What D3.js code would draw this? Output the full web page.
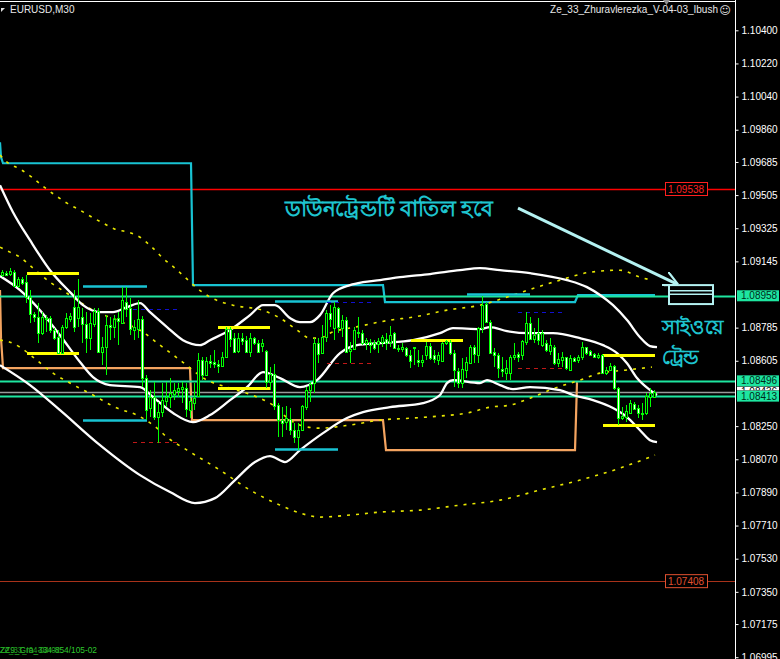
<!DOCTYPE html>
<html><head><meta charset="utf-8">
<script src="https://cdn.jsdelivr.net/npm/d3@7"></script>
<style>html,body{margin:0;padding:0;background:#000;overflow:hidden}</style>
</head><body>
<svg id="c" width="780" height="659"></svg>
<script>
// ---- DATA ----
const symbol = "EURUSD,M30";
const indicatorName = "Ze_33_Zhuravlerezka_V-04-03_Ibush";
const tickValues = [1.10400,1.10220,1.10040,1.09860,1.09685,1.09505,1.09325,1.09145,1.08785,1.08605,1.08250,1.08070,1.07890,1.07710,1.07530,1.07350,1.07175,1.06995];

const opens = [1.09070,1.09081,1.09076,1.09086,1.09010,1.09048,1.09032,1.08951,1.08858,1.08842,1.08755,1.08837,1.08837,1.08772,1.08733,1.08647,1.08788,1.08831,1.08896,1.08837,
1.08842,1.08804,1.08728,1.08804,1.08875,1.08652,1.08679,1.08799,1.08788,1.08837,1.08810,1.08924,1.08891,1.08772,1.08777,1.08831,1.08511,1.08348,1.08408,1.08299,
1.08326,1.08386,1.08408,1.08424,1.08440,1.08451,1.08457,1.08337,1.08375,1.08413,1.08609,1.08527,1.08603,1.08598,1.08587,1.08576,1.08625,1.08777,1.08728,1.08657,
1.08728,1.08717,1.08652,1.08728,1.08701,1.08685,1.08657,1.08489,1.08533,1.08364,1.08283,1.08272,1.08288,1.08228,1.08190,1.08228,1.08353,1.08446,1.08484,1.08701,
1.08647,1.08733,1.08864,1.08782,1.08891,1.08782,1.08826,1.08657,1.08668,1.08761,1.08755,1.08701,1.08706,1.08701,1.08695,1.08706,1.08723,1.08706,1.08755,1.08674,
1.08668,1.08674,1.08636,1.08674,1.08609,1.08598,1.08636,1.08685,1.08636,1.08609,1.08603,1.08701,1.08706,1.08647,1.08549,1.08484,1.08554,1.08592,1.08679,1.08636,
1.08782,1.08913,1.08815,1.08652,1.08636,1.08560,1.08538,1.08538,1.08625,1.08641,1.08636,1.08706,1.08810,1.08723,1.08755,1.08690,1.08701,1.08657,1.08679,1.08592,
1.08609,1.08625,1.08554,1.08619,1.08609,1.08625,1.08679,1.08657,1.08641,1.08625,1.08636,1.08538,1.08554,1.08576,1.08457,1.08294,1.08299,1.08321,1.08370,1.08348,
1.08321,1.08321,1.08408,1.08408];
const highs = [1.09097,1.09092,1.09108,1.09097,1.09059,1.09059,1.09070,1.08989,1.08869,1.08918,1.08869,1.08853,1.08848,1.08782,1.08772,1.08799,1.08864,1.08864,1.08989,1.09048,
1.08891,1.08869,1.08864,1.08891,1.08891,1.08733,1.08853,1.08842,1.08853,1.08869,1.09005,1.09005,1.08945,1.08826,1.08934,1.08848,1.08527,1.08446,1.08489,1.08381,
1.08484,1.08489,1.08511,1.08484,1.08484,1.08489,1.08484,1.08402,1.08484,1.08647,1.08625,1.08625,1.08636,1.08663,1.08609,1.08652,1.08788,1.08788,1.08755,1.08755,
1.08755,1.08739,1.08755,1.08733,1.08717,1.08723,1.08663,1.08571,1.08587,1.08375,1.08353,1.08359,1.08348,1.08267,1.08267,1.08364,1.08462,1.08489,1.08728,1.08728,
1.08799,1.08880,1.08907,1.08924,1.08896,1.08853,1.08842,1.08706,1.08788,1.08842,1.08772,1.08728,1.08723,1.08717,1.08728,1.08744,1.08755,1.08793,1.08761,1.08690,
1.08701,1.08679,1.08663,1.08679,1.08663,1.08636,1.08706,1.08701,1.08663,1.08652,1.08706,1.08717,1.08717,1.08663,1.08565,1.08619,1.08625,1.08690,1.08690,1.08788,
1.08956,1.08924,1.08826,1.08674,1.08647,1.08625,1.08609,1.08636,1.08701,1.08652,1.08717,1.08869,1.08842,1.08782,1.08837,1.08772,1.08717,1.08728,1.08690,1.08647,
1.08652,1.08625,1.08636,1.08625,1.08636,1.08706,1.08679,1.08663,1.08647,1.08647,1.08641,1.08571,1.08592,1.08581,1.08462,1.08353,1.08364,1.08391,1.08381,1.08364,
1.08375,1.08429,1.08457,1.08446];
const lows = [1.09059,1.09065,1.09065,1.09005,1.09000,1.09016,1.08918,1.08810,1.08815,1.08701,1.08744,1.08761,1.08755,1.08717,1.08647,1.08641,1.08777,1.08815,1.08761,1.08788,
1.08701,1.08647,1.08663,1.08788,1.08652,1.08581,1.08527,1.08717,1.08728,1.08690,1.08804,1.08842,1.08744,1.08717,1.08728,1.08462,1.08283,1.08299,1.08283,1.08158,
1.08299,1.08353,1.08348,1.08391,1.08408,1.08375,1.08299,1.08294,1.08337,1.08408,1.08500,1.08527,1.08565,1.08565,1.08538,1.08571,1.08619,1.08679,1.08652,1.08647,
1.08690,1.08652,1.08625,1.08690,1.08647,1.08652,1.08457,1.08446,1.08337,1.08190,1.08190,1.08228,1.08201,1.08158,1.08120,1.08228,1.08337,1.08381,1.08429,1.08592,
1.08641,1.08706,1.08788,1.08717,1.08755,1.08733,1.08652,1.08592,1.08663,1.08728,1.08690,1.08663,1.08647,1.08663,1.08647,1.08679,1.08663,1.08679,1.08668,1.08652,
1.08652,1.08625,1.08565,1.08581,1.08571,1.08571,1.08609,1.08609,1.08592,1.08581,1.08598,1.08690,1.08636,1.08462,1.08457,1.08457,1.08511,1.08592,1.08592,1.08592,
1.08755,1.08810,1.08647,1.08571,1.08511,1.08516,1.08500,1.08500,1.08609,1.08598,1.08609,1.08690,1.08717,1.08701,1.08690,1.08679,1.08652,1.08636,1.08581,1.08571,
1.08571,1.08554,1.08554,1.08598,1.08592,1.08609,1.08636,1.08630,1.08619,1.08614,1.08538,1.08527,1.08549,1.08446,1.08256,1.08283,1.08272,1.08321,1.08337,1.08294,
1.08283,1.08310,1.08353,1.08402];
const closes = [1.09086,1.09070,1.09092,1.09010,1.09048,1.09027,1.08951,1.08858,1.08842,1.08755,1.08842,1.08831,1.08772,1.08728,1.08647,1.08788,1.08837,1.08848,1.08788,1.08896,
1.08804,1.08728,1.08810,1.08875,1.08652,1.08679,1.08799,1.08788,1.08831,1.08820,1.08934,1.08886,1.08777,1.08788,1.08831,1.08511,1.08337,1.08408,1.08299,1.08326,
1.08391,1.08408,1.08429,1.08446,1.08457,1.08462,1.08343,1.08386,1.08402,1.08609,1.08527,1.08603,1.08592,1.08587,1.08576,1.08625,1.08777,1.08723,1.08652,1.08728,
1.08712,1.08652,1.08728,1.08701,1.08652,1.08701,1.08489,1.08533,1.08359,1.08283,1.08267,1.08294,1.08228,1.08190,1.08228,1.08359,1.08446,1.08478,1.08701,1.08641,
1.08733,1.08864,1.08831,1.08896,1.08788,1.08826,1.08652,1.08668,1.08772,1.08755,1.08701,1.08717,1.08690,1.08674,1.08712,1.08733,1.08701,1.08744,1.08674,1.08668,
1.08679,1.08636,1.08603,1.08679,1.08598,1.08609,1.08685,1.08619,1.08614,1.08636,1.08701,1.08712,1.08647,1.08554,1.08484,1.08560,1.08598,1.08679,1.08641,1.08782,
1.08907,1.08815,1.08647,1.08636,1.08565,1.08549,1.08565,1.08625,1.08636,1.08625,1.08712,1.08810,1.08723,1.08744,1.08717,1.08755,1.08663,1.08690,1.08592,1.08614,
1.08625,1.08565,1.08619,1.08603,1.08625,1.08679,1.08647,1.08636,1.08625,1.08636,1.08538,1.08554,1.08576,1.08457,1.08294,1.08305,1.08332,1.08375,1.08343,1.08321,
1.08315,1.08413,1.08429,1.08435];

// White Bollinger bands [barIndex, price]
const bbUpper = [[-0.5,1.09559],[2.75,1.09412],[7,1.09260],[12,1.09097],[17,1.08978],[20.25,1.08907],[24.5,1.08869],[27.75,1.08869],[31.25,1.08896],[34.5,1.08918],[37,1.08869],[41.25,1.08788],[45.25,1.08717],[49.5,1.08690],[52,1.08717],[57,1.08772],[62,1.08853],[65.25,1.08907],[68.25,1.08907],[72,1.08837],[74.5,1.08815],[77,1.08815],[79.5,1.08853],[82.75,1.08972],[87,1.09016],[90.25,1.09032],[94.5,1.09043],[99.5,1.09059],[107,1.09076],[114.5,1.09097],[119.5,1.09108],[124.5,1.09097],[132,1.09081],[141.25,1.09043],[146.25,1.09005],[149.5,1.08962],[152.75,1.08907],[156.25,1.08826],[159.5,1.08733],[162,1.08685],[163.75,1.08679]];
const bbMiddle = [[-0.5,1.09065],[4.5,1.08989],[9.5,1.08880],[14.5,1.08744],[19.5,1.08598],[22.75,1.08516],[27,1.08473],[34.5,1.08462],[37.75,1.08408],[42.75,1.08321],[47.75,1.08272],[52,1.08310],[57,1.08391],[61.25,1.08462],[65.25,1.08543],[69.5,1.08511],[74.5,1.08462],[78.75,1.08500],[84.5,1.08647],[88.75,1.08690],[94.5,1.08701],[102.75,1.08717],[109.5,1.08755],[112.75,1.08782],[119.5,1.08777],[122,1.08788],[126.25,1.08766],[132,1.08755],[137.75,1.08755],[144.5,1.08728],[150.25,1.08690],[153.75,1.08647],[156.25,1.08592],[158.75,1.08511],[162,1.08446],[163.75,1.08419]];
const bbLower = [[-0.5,1.08581],[7,1.08473],[14.5,1.08337],[24.5,1.08147],[34.5,1.07984],[42,1.07892],[48.25,1.07832],[53.25,1.07859],[58.25,1.07957],[63.25,1.08055],[67,1.08087],[70.75,1.08055],[74.5,1.08120],[80.25,1.08212],[86.25,1.08294],[90.25,1.08326],[97,1.08353],[105.25,1.08375],[109.5,1.08419],[111.25,1.08484],[112.75,1.08500],[119.5,1.08484],[121.25,1.08500],[124.5,1.08473],[127.75,1.08451],[132,1.08462],[139.5,1.08446],[142.75,1.08419],[147.75,1.08391],[152.75,1.08348],[156.25,1.08299],[159.5,1.08228],[162,1.08174],[163.75,1.08163]];

// Yellow dotted envelope [barIndex, price]
const envUpper = [[-0.5,1.09722],[1.25,1.09684],[4.5,1.09646],[7.5,1.09602],[10.25,1.09553],[13.25,1.09505],[16.25,1.09461],[19.5,1.09423],[22.5,1.09385],[25.25,1.09353],[28.25,1.09320],[31.5,1.09304],[34.5,1.09276],[37.5,1.09222],[40.25,1.09162],[43.25,1.09108],[45.75,1.09059],[48.75,1.09000],[52,1.08951],[57.75,1.08907],[65,1.08880],[69.5,1.08837],[73.75,1.08772],[77,1.08728],[79.5,1.08728],[82,1.08755],[89.5,1.08793],[97,1.08826],[102.75,1.08842],[111.25,1.08880],[119.5,1.08907],[127.75,1.08962],[133.75,1.09005],[139.5,1.09043],[147,1.09086],[154.5,1.09097],[159.5,1.09059],[162.5,1.09043]];
const envMiddle = [[-0.5,1.09222],[2,1.09195],[4.5,1.09168],[7.75,1.09108],[12,1.09032],[16.25,1.08972],[22.75,1.08880],[28.75,1.08826],[35.25,1.08761],[39.5,1.08690],[44.5,1.08609],[51.25,1.08500],[57,1.08457],[63.75,1.08408],[67.75,1.08364],[72,1.08283],[75.25,1.08250],[79.5,1.08239],[87,1.08256],[94.5,1.08283],[102.75,1.08294],[109.5,1.08305],[116.25,1.08321],[122,1.08353],[127,1.08364],[132,1.08402],[138.25,1.08457],[144.5,1.08500],[149.5,1.08538],[155.75,1.08554],[162.5,1.08571]];
const envLower = [[-0.5,1.08717],[2,1.08706],[4.5,1.08679],[7.75,1.08625],[12.75,1.08538],[17,1.08484],[22.75,1.08419],[28.75,1.08348],[33.75,1.08310],[38.75,1.08239],[41.25,1.08190],[46.25,1.08120],[54.5,1.08011],[62,1.07903],[69.5,1.07821],[74.5,1.07778],[79.5,1.07756],[87,1.07767],[94.5,1.07783],[104.5,1.07794],[114.5,1.07821],[124.5,1.07848],[134.5,1.07903],[144.5,1.07957],[154.5,1.08022],[163.25,1.08093]];

// Step lines [barIndex, price]
const cyanStep = [[-0.5,1.09792],[-0.25,1.09711],[0.25,1.09678],[47.25,1.09678],[47.75,1.09016],[95.25,1.09016],[95.75,1.08924],[143.25,1.08924],[144,1.08962],[163.25,1.08962]];
const orangeStep = [[-0.5,1.08989],[-0.25,1.08728],[0.25,1.08565],[47,1.08565],[47.5,1.08283],[95.25,1.08283],[96,1.08120],[143.25,1.08120],[143.5,1.08299],[143.75,1.08489]];

// Short level segments {from, to, price}
const yellowLevels = [{from:6.25,to:19.25,price:1.09081},{from:6.25,to:19.25,price:1.08647},{from:54,to:67,price:1.08788},{from:54,to:67,price:1.08457},{from:102.25,to:115.25,price:1.08717},{from:150.25,to:163.25,price:1.08636},{from:150.25,to:163.25,price:1.08256}];
const cyanLevels = [{from:20.25,to:36.25,price:1.09010},{from:20.25,to:36.25,price:1.08283},{from:68.25,to:84,price:1.08929},{from:68.25,to:84,price:1.08125},{from:116.25,to:132,price:1.08967}];
const blueDashLevels = [{from:32.75,to:44.5,price:1.08886},{from:81.25,to:92.5,price:1.08924},{from:129,to:140.25,price:1.08869}];
const redDashLevels = [{from:32.75,to:44.5,price:1.08163},{from:81.25,to:92.5,price:1.08592},{from:129,to:140.25,price:1.08565}];

// Full-width horizontal levels
const redLevel = 1.09538;
const brownLevel = 1.07408;
const greenLevels = [1.08958, 1.08496, 1.08413];
const greyLevel = 1.08436;

// Annotations (bar index / price)
const noteMain = {text:"ডাউনট্রেন্ডটি বাতিল হবে", bar:70.75, price:1.09391};
const noteSide = [{text:"সাইওয়ে", bar:165, price:1.08750},{text:"ট্রেন্ড", bar:165, price:1.08587}];
const arrow = {fromBar:129, fromPrice:1.09434, toBar:168.75, toPrice:1.09021};
const box = {fromBar:166.75, toBar:177.75, top:1.09016, bottom:1.08913};
const bottomTexts = ["ZZ9_Gra_334-854/105-02", "Ze_33_I04-04-02"];

// ---- DRAW ----
const W = 780, H = 659, plotRight = 735;
const svg = d3.select("#c");
svg.append("rect").attr("width", W).attr("height", H).attr("fill", "#000");

const y = d3.scaleLinear().domain([1.06995, 1.104]).range([657.2, 30.3]);
const x = d3.scaleLinear().domain([0, 163]).range([2, 654]);

const plot = svg.append("g");
const FONT = "'Liberation Sans', Arial, sans-serif";
const BFONT = "'Noto Sans', sans-serif";

function hline(p, color, w) {
  plot.append("line").attr("x1", 0).attr("x2", plotRight)
    .attr("y1", Math.round(y(p)) + 0.5).attr("y2", Math.round(y(p)) + 0.5)
    .attr("stroke", color).attr("stroke-width", w || 1);
}
hline(redLevel, "#ff0000", 1.5);
hline(brownLevel, "#a8321a", 1.2);
hline(greyLevel, "#9a9a9a", 1.5);

const lineGen = d3.line().x(d => x(d[0])).y(d => y(d[1]));
plot.append("path").attr("d", lineGen(orangeStep)).attr("fill", "none").attr("stroke", "#f4a460").attr("stroke-width", 2.2);
plot.append("path").attr("d", lineGen(cyanStep)).attr("fill", "none").attr("stroke", "#18c3d3").attr("stroke-width", 2.2);

greenLevels.forEach(p => hline(p, "#1ee6a0", 2.2));

const smooth = d3.line().x(d => x(d[0])).y(d => y(d[1])).curve(d3.curveMonotoneX);
[envUpper, envMiddle, envLower].forEach(s => {
  plot.append("path").attr("d", smooth(s)).attr("fill", "none")
    .attr("stroke", "#e8e800").attr("stroke-width", 1.6).attr("stroke-dasharray", "3,6");
});

[bbUpper, bbMiddle, bbLower].forEach(s => {
  plot.append("path").attr("d", smooth(s)).attr("fill", "none")
    .attr("stroke", "#ffffff").attr("stroke-width", 2.3);
});

function seg(list, color, w, dash) {
  list.forEach(d => {
    const yy = Math.round(y(d.price)) + 0.5;
    const l = plot.append("line").attr("x1", x(d.from)).attr("x2", x(d.to))
      .attr("y1", yy).attr("y2", yy).attr("stroke", color).attr("stroke-width", w);
    if (dash) l.attr("stroke-dasharray", dash);
  });
}
seg(yellowLevels, "#ffff00", 2.8);
seg(cyanLevels, "#18c3d3", 2.5);
seg(blueDashLevels, "#1010d0", 1.2, "4,4");
seg(redDashLevels, "#c01818", 1.2, "4,4");

// candles
const cg = plot.append("g").attr("shape-rendering", "crispEdges");
opens.forEach((o, i) => {
  const cx = Math.round(x(i));
  const c = closes[i];
  cg.append("rect").attr("x", cx).attr("width", 1)
    .attr("y", y(highs[i])).attr("height", Math.max(1, y(lows[i]) - y(highs[i])))
    .attr("fill", "#00ff00");
  const top = Math.round(y(Math.max(o, c)));
  const bot = Math.round(y(Math.min(o, c)));
  const h = Math.max(1, bot - top);
  cg.append("rect").attr("x", cx - 1).attr("width", 3).attr("y", top).attr("height", h + 1).attr("fill", "#00ff00");
  if (h >= 2) {
    cg.append("rect").attr("x", cx).attr("width", 1).attr("y", top + 1).attr("height", h - 1)
      .attr("fill", c < o ? "#ffffff" : "#000000");
  }
});

// annotations
svg.append("text").attr("x", x(noteMain.bar)).attr("y", y(noteMain.price))
  .attr("fill", "#1ec4cf").attr("font-family", BFONT).attr("font-weight", "bold").attr("font-size", 22)
  .attr("textLength", 208).attr("lengthAdjust", "spacingAndGlyphs").text(noteMain.text);
const sideLens = [62, 37];
noteSide.forEach((n, k) => {
  svg.append("text").attr("x", x(n.bar)).attr("y", y(n.price))
    .attr("fill", "#1ec4cf").attr("font-family", BFONT).attr("font-weight", "bold").attr("font-size", 20)
    .attr("textLength", sideLens[k]).attr("lengthAdjust", "spacingAndGlyphs").text(n.text);
});
svg.append("defs").append("marker").attr("id", "ah").attr("viewBox", "0 0 10 10")
  .attr("refX", 9).attr("refY", 5).attr("markerWidth", 5).attr("markerHeight", 5).attr("orient", "auto")
  .append("path").attr("d", "M0,0 L10,5 L0,10").attr("fill", "none").attr("stroke", "#b4f2f2").attr("stroke-width", 1.5);
svg.append("line").attr("x1", x(arrow.fromBar)).attr("y1", y(arrow.fromPrice))
  .attr("x2", x(arrow.toBar)).attr("y2", y(arrow.toPrice))
  .attr("stroke", "#b4f2f2").attr("stroke-width", 3).attr("marker-end", "url(#ah)");
const bx0 = x(box.fromBar), bx1 = x(box.toBar), by0 = y(box.top), by1 = y(box.bottom);
svg.append("rect").attr("x", bx0).attr("y", by0).attr("width", bx1 - bx0).attr("height", by1 - by0)
  .attr("fill", "#000").attr("stroke", "#b4f2f2").attr("stroke-width", 2);
[0.3, 0.48].forEach(f => {
  svg.append("line").attr("x1", bx0).attr("x2", bx1).attr("y1", by0 + f * (by1 - by0)).attr("y2", by0 + f * (by1 - by0))
    .attr("stroke", "#b4f2f2").attr("stroke-width", 1.5);
});

function levelTag(p, color) {
  const yy = y(p);
  svg.append("rect").attr("x", 665.5).attr("y", yy - 6.5).attr("width", 42).attr("height", 13)
    .attr("fill", "#000").attr("stroke", color).attr("stroke-width", 1);
  svg.append("text").attr("x", 686).attr("y", yy).attr("dy", "0.35em").attr("text-anchor", "middle")
    .attr("fill", color).attr("font-family", FONT).attr("font-size", 10).text(d3.format(".5f")(p));
}
levelTag(redLevel, "#ff2020");
levelTag(brownLevel, "#e05030");

// frame
svg.append("line").attr("x1", 0).attr("x2", plotRight).attr("y1", 1.5).attr("y2", 1.5).attr("stroke", "#fff");
svg.append("line").attr("x1", plotRight + 0.5).attr("x2", plotRight + 0.5).attr("y1", 0).attr("y2", H).attr("stroke", "#fff");

// axis
const axis = d3.axisRight(y).tickValues(tickValues).tickFormat(d3.format(".5f")).tickSize(3).tickSizeOuter(0).tickPadding(3);
const ag = svg.append("g").attr("transform", `translate(${plotRight + 0.5},0)`).call(axis);
ag.select(".domain").remove();
ag.selectAll("line").attr("stroke", "#fff");
ag.selectAll("text").attr("fill", "#fff").attr("font-family", FONT).attr("font-size", 10);

// axis price tags: grey tag is mostly hidden between the two green tags
const gy = y(greyLevel);
svg.append("clipPath").attr("id", "greyClip").append("rect")
  .attr("x", plotRight + 2).attr("y", gy - 5.5).attr("width", 42).attr("height", 4);
const gt = svg.append("g").attr("clip-path", "url(#greyClip)");
gt.append("rect").attr("x", plotRight + 2).attr("y", gy - 5.5).attr("width", 42).attr("height", 11).attr("fill", "#ffffff");
gt.append("text").attr("x", plotRight + 6).attr("y", gy).attr("dy", "0.36em").attr("fill", "#000")
  .attr("font-family", FONT).attr("font-size", 10).text(d3.format(".5f")(greyLevel));
greenLevels.forEach(p => {
  const yy = y(p);
  svg.append("rect").attr("x", plotRight + 2).attr("y", yy - 5.5).attr("width", 42).attr("height", 11).attr("fill", "#1ee6a0");
  svg.append("text").attr("x", plotRight + 6).attr("y", yy).attr("dy", "0.36em").attr("fill", "#002a1a")
    .attr("font-family", FONT).attr("font-size", 10).text(d3.format(".5f")(p));
});

// titles
svg.append("path").attr("d", "M1,8 L5,8 L1,12 Z").attr("fill", "#ddd");
svg.append("text").attr("x", 10).attr("y", 13).attr("fill", "#e8e8e8").attr("font-family", FONT).attr("font-size", 10).text(symbol);
svg.append("text").attr("x", 718).attr("y", 13).attr("text-anchor", "end").attr("fill", "#e8e8e8").attr("font-family", FONT).attr("font-size", 10).text(indicatorName);
svg.append("text").attr("x", 725).attr("y", 14).attr("text-anchor", "middle").attr("fill", "#e8e8e8").attr("font-family", "'DejaVu Sans'").attr("font-size", 11).text("☺");
svg.append("path").attr("d", "M663,0 L670,0 L666.5,5 Z").attr("fill", "#909090");

// bottom overlapped labels
bottomTexts.forEach((t, k) => {
  svg.append("text").attr("x", 0).attr("y", 653).attr("fill", k ? "#22a022" : "#2ec82e")
    .attr("font-family", FONT).attr("font-size", 9).attr("textLength", k ? 60 : 97).attr("lengthAdjust", "spacingAndGlyphs").text(t);
});
</script>
</body></html>
